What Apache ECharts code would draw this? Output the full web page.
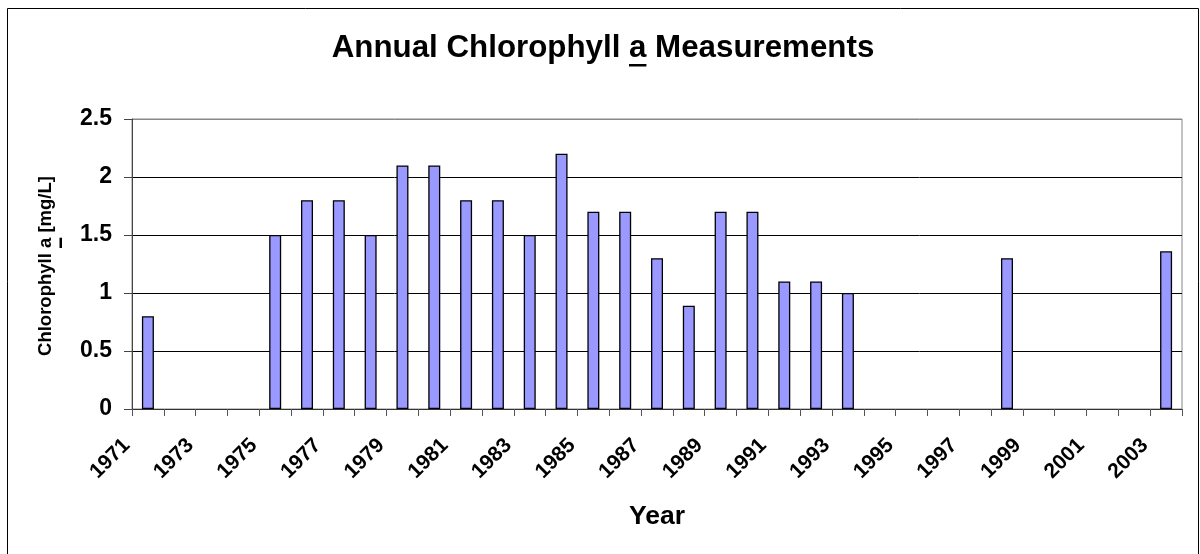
<!DOCTYPE html>
<html>
<head>
<meta charset="utf-8">
<script src="https://cdn.jsdelivr.net/npm/echarts@6/dist/echarts.min.js"></script>
<style>
  html, body { margin: 0; padding: 0; background: #fff; }
  #chart { width: 1200px; height: 554px; }
</style>
</head>
<body>
<div id="chart"></div>
<script>
const years = ['1971', '1972', '1973', '1974', '1975', '1976', '1977', '1978', '1979', '1980',
  '1981', '1982', '1983', '1984', '1985', '1986', '1987', '1988', '1989', '1990',
  '1991', '1992', '1993', '1994', '1995', '1996', '1997', '1998', '1999', '2000',
  '2001', '2002', '2003']
const chlorophyll = [0.8, null, null, null, 1.5, 1.8, 1.8, 1.5, 2.1, 2.1,
  1.8, 1.8, 1.5, 2.2, 1.7, 1.7, 1.3, 0.89, 1.7, 1.7,
  1.1, 1.1, 1.0, null, null, null, null, 1.3, null, null,
  null, null, 1.36]
const titleParts = ['Annual Chlorophyll ', 'a', ' Measurements']
const yNameParts = ['Chlorophyll ', 'a', ' [mg/L]']
const xName = 'Year'

const FONT = '"Liberation Sans", Arial, sans-serif'

// measure text so the underlined "a" can be placed
const measureCtx = document.createElement('canvas').getContext('2d')
const textWidth = (str, size) => {
  measureCtx.font = 'bold ' + size + 'px ' + FONT
  return measureCtx.measureText(str).width
}

const titleSize = 31.3
const titleCx = 603
const titleY = 48.5
const titleFull = titleParts.join('')
const titleW = textWidth(titleFull, titleSize)
const titleUx = titleCx - titleW / 2 + textWidth(titleParts[0], titleSize)
const titleUw = textWidth(titleParts[1], titleSize)

const yNameSize = 18.5
const yNameCx = 46
const yNameCy = 266
const yNameFull = yNameParts.join('')
const yNameW = textWidth(yNameFull, yNameSize)
const yNameUw = textWidth(yNameParts[1], yNameSize)
const yNameUy = yNameCy + yNameW / 2 - textWidth(yNameParts[0], yNameSize) - yNameUw

const chart = echarts.init(document.getElementById('chart'))

chart.setOption({
  animation: false,
  backgroundColor: '#ffffff',
  textStyle: { fontFamily: FONT },
  grid: {
    left: 132,
    right: 18,
    top: 119,
    bottom: 145,
    containLabel: false,
    show: true,
    borderColor: '#888888',
    borderWidth: 1
  },
  graphic: [
    {
      type: 'rect',
      silent: true,
      shape: { x: 7.5, y: 8.5, width: 1191, height: 600 },
      style: { fill: null, stroke: '#000000', lineWidth: 1 }
    },
    {
      type: 'text',
      x: titleCx,
      y: titleY,
      style: {
        text: titleFull,
        font: 'bold ' + titleSize + 'px ' + FONT,
        fill: '#000000',
        align: 'center',
        verticalAlign: 'middle'
      }
    },
    {
      type: 'rect',
      shape: { x: titleUx, y: 64, width: titleUw, height: 2.5 },
      style: { fill: '#000000' }
    },
    {
      type: 'text',
      x: yNameCx,
      y: yNameCy,
      rotation: Math.PI / 2,
      style: {
        text: yNameFull,
        font: 'bold ' + yNameSize + 'px ' + FONT,
        fill: '#000000',
        align: 'center',
        verticalAlign: 'middle'
      }
    },
    {
      type: 'rect',
      shape: { x: 59.5, y: yNameUy, width: 2.5, height: yNameUw },
      style: { fill: '#000000' }
    }
  ],
  xAxis: {
    type: 'category',
    data: years,
    boundaryGap: true,
    name: xName,
    nameLocation: 'middle',
    nameGap: 94,
    nameTextStyle: {
      fontSize: 26.5,
      fontWeight: 'bold',
      color: '#000000'
    },
    axisLine: {
      show: true,
      lineStyle: { color: '#333333', width: 1 }
    },
    axisTick: {
      show: true,
      interval: 0,
      alignWithLabel: false,
      inside: false,
      length: 7,
      lineStyle: { color: '#555555' }
    },
    axisLabel: {
      interval: 1,
      rotate: 45,
      margin: 12,
      formatter: (value) => '{y|' + value + '}',
      rich: {
        y: {
          fontSize: 21,
          fontWeight: 'bold',
          color: '#000000',
          padding: [0, 30, 0, 0]
        }
      }
    },
    splitLine: { show: false }
  },
  yAxis: {
    type: 'value',
    min: 0,
    max: 2.5,
    interval: 0.5,
    axisLine: {
      show: true,
      lineStyle: { color: '#444444', width: 1 }
    },
    axisTick: {
      show: true,
      length: 8,
      lineStyle: { color: '#444444' }
    },
    axisLabel: {
      margin: 20,
      fontSize: 23,
      fontWeight: 'bold',
      color: '#000000'
    },
    splitLine: {
      show: true,
      lineStyle: {
        color: ['#000000', '#000000', '#000000', '#000000', '#000000', '#888888'],
        width: 1
      }
    }
  },
  series: [
    {
      type: 'bar',
      data: chlorophyll,
      barWidth: 12,
      itemStyle: {
        color: '#9999ff',
        borderColor: '#000000',
        borderWidth: 1.3
      }
    }
  ]
})
</script>
</body>
</html>
